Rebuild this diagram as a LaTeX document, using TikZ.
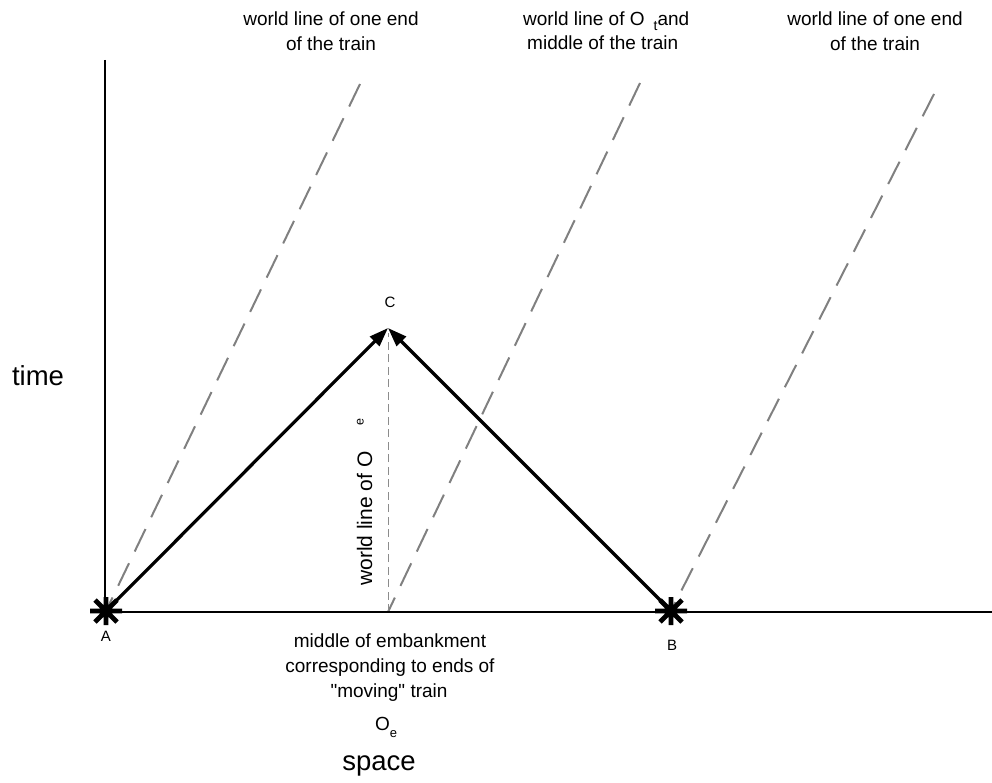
\documentclass[tikz,border=0pt]{standalone}
\usepackage{fontspec}
\setmainfont{Liberation Sans}[Ligatures=TeXOff]
\usetikzlibrary{arrows.meta}
\definecolor{wlgray}{RGB}{128,128,128}
\definecolor{thingray}{RGB}{140,140,140}
\begin{document}
\begin{tikzpicture}[x=1pt,y=-1pt,
  lbl/.style={inner sep=0pt, font=\fontsize{19}{23}\selectfont},
  big/.style={inner sep=0pt, font=\fontsize{27.5}{32}\selectfont},
  pt/.style={inner sep=0pt, font=\fontsize{15}{18}\selectfont},
  axis/.style={line width=2.8pt, black},
  worldline/.style={line width=2pt, wlgray, dash pattern=on 25pt off 13pt},
  thindash/.style={line width=0.9pt, thingray, dash pattern=on 8pt off 4.5pt},
  ray/.style={line width=3.2pt, black, -{Triangle[length=19pt,width=13pt]}},
  starpic/.pic={\draw[line width=4.8pt] (-16,0)--(16,0) (0,-14)--(0,14) (-11,-11)--(11,11) (-11,11)--(11,-11);}
]
\useasboundingbox (0,0) rectangle (992,783);

% points
\coordinate (A) at (106,611);
\coordinate (B) at (671,611);
\coordinate (C) at (388,328);
\coordinate (E) at (388,612);
\coordinate (Ctop) at (388,333);
\coordinate (W1) at (360,84);
\coordinate (W2) at (640,83);
\coordinate (W3) at (934,94);
\coordinate (Ytop) at (105,60);
\coordinate (Y0) at (105,612);
\coordinate (Xend) at (992,612);

% world lines
\draw[worldline] (W1) -- (A);
\draw[worldline] (W2) -- (E);
\draw[worldline] (W3) -- (B);
\draw[thindash] (E) -- (Ctop);

% axes
\draw[axis] (Ytop) -- (Y0) -- (Xend);

% light rays
\draw[ray] (A) -- (C);
\draw[ray] (B) -- (C);

% events
\pic at (A) {starpic};
\pic at (B) {starpic};

% labels
\node[pt, anchor=base] (lA) at (106,641) {A};
\node[pt, anchor=base] (lB) at (672,650) {B};
\node[pt, anchor=base] (lC) at (390,308) {C};

\node[lbl, anchor=base] (t1a) at (331,26) {world line of one end};
\node[lbl, anchor=base] (t1b) at (331,51) {of the train};
\node[lbl, anchor=base west] (t2a) at (523,26) {world line of O\hspace{9pt}\raisebox{-5pt}{\fontsize{14}{14}\selectfont t}and};
\node[lbl, anchor=base west] (t2b) at (527,50) {middle of the train};
\node[lbl, anchor=base] (t3a) at (875,26) {world line of one end};
\node[lbl, anchor=base] (t3b) at (875,51) {of the train};

\node[big, anchor=base] (time) at (38,385) {time};
\node[big, anchor=base] (space) at (379,770) {space};

\node[lbl, anchor=base] (m1) at (390,647) {middle of embankment};
\node[lbl, anchor=base] (m2) at (390,672) {corresponding to ends of};
\node[lbl, anchor=base] (m3) at (389,697) {"moving" train};
\node[lbl, anchor=base west] (Oe) at (375,730) {O\raisebox{-7pt}{\fontsize{13}{13}\selectfont e}};

\node[inner sep=0pt, font=\fontsize{21}{25}\selectfont, rotate=90, anchor=base west] (wlOe) at (372,586)
  {world line of O\hspace{26pt}\raisebox{8.5pt}{\fontsize{12.5}{12.5}\selectfont e}};
\end{tikzpicture}
\end{document}
